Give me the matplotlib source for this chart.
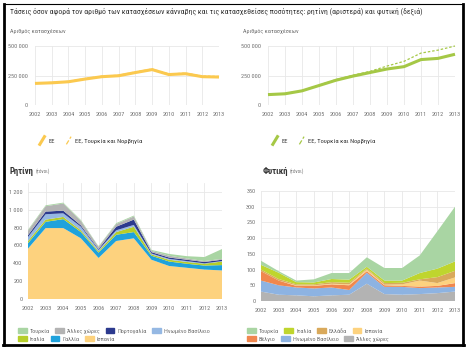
import matplotlib
matplotlib.use('Agg')
import matplotlib.pyplot as plt
import matplotlib.font_manager as fm
from matplotlib.lines import Line2D
from matplotlib.patches import Patch
from matplotlib.legend_handler import HandlerBase

# pick a narrow face if one exists, else Liberation Sans
FONT, STRETCH = 'Liberation Sans', 'normal'
for fam in ['Liberation Sans Narrow', 'Roboto Condensed', 'Open Sans Condensed', 'DejaVu Sans Condensed']:
    try:
        fm.findfont(fm.FontProperties(family=fam), fallback_to_default=False)
        FONT = fam
        break
    except Exception:
        pass
plt.rcParams['font.family'] = [FONT, 'DejaVu Sans']
plt.rcParams['font.stretch'] = STRETCH

# ---------------- data ----------------
years = list(range(2002, 2014))

resin_cases_eu = [183000, 188000, 197000, 220000, 240000, 248000, 275000, 300000, 258000, 265000, 240000, 237000]
resin_cases_eu_tr_no = [186000, 191000, 200000, 224000, 244000, 252000, 280000, 305000, 263000, 270000, 245000, 242000]

herbal_cases_eu = [88000, 95000, 120000, 165000, 210000, 245000, 275000, 305000, 325000, 385000, 395000, 430000]
herbal_cases_eu_tr_no = [90000, 97000, 122000, 168000, 215000, 252000, 285000, 330000, 370000, 440000, 465000, 500000]

# resin (tonnes), bottom to top
resin_labels = ['Ισπανία', 'Γαλλία', 'Ιταλία', 'Ηνωμένο Βασίλειο', 'Πορτογαλία', 'Άλλες χώρες', 'Τουρκία']
resin_spain    = [565, 795, 795, 680, 460, 650, 680, 440, 370, 350, 330, 320]
resin_france   = [60, 70, 100, 70, 60, 70, 70, 45, 50, 45, 45, 60]
resin_italy    = [25, 25, 25, 20, 15, 30, 60, 15, 20, 20, 20, 40]
resin_uk       = [45, 60, 40, 40, 15, 20, 20, 10, 10, 10, 5, 5]
resin_portugal = [20, 30, 30, 15, 10, 40, 60, 15, 15, 15, 15, 15]
resin_other    = [50, 60, 80, 50, 25, 30, 35, 15, 20, 15, 10, 10]
resin_turkey   = [10, 10, 10, 10, 5, 10, 10, 10, 20, 25, 45, 110]

# herbal (tonnes), bottom to top
herbal_labels = ['Άλλες χώρες', 'Ηνωμένο Βασίλειο', 'Βέλγιο', 'Ισπανία', 'Ελλάδα', 'Ιταλία', 'Τουρκία']
herbal_other   = [30, 20, 18, 15, 18, 20, 55, 22, 20, 22, 25, 30]
herbal_uk      = [35, 30, 25, 25, 25, 15, 35, 23, 25, 19, 18, 15]
herbal_belgium = [30, 15, 5, 8, 10, 15, 5, 5, 3, 5, 5, 12]
herbal_spain   = [0, 0, 2, 2, 2, 3, 5, 2, 5, 19, 9, 18]
herbal_greece  = [5, 5, 3, 3, 5, 5, 3, 5, 5, 4, 19, 21]
herbal_italy   = [15, 20, 7, 6, 10, 10, 6, 8, 7, 20, 27, 30]
herbal_turkey  = [13, 5, 5, 10, 19, 21, 30, 40, 40, 56, 119, 174]

resin_colors = ['#FDD27E', '#1FA2DC', '#B6CE2A', '#95B8E3', '#2C3A8E', '#B3B3B3', '#A9D5A3']
herbal_colors = ['#B3B3B3', '#8DB3E2', '#F0874E', '#FDD27E', '#D9A95B', '#BFD52E', '#A9D5A3']

TITLE = 'Τάσεις όσον αφορά τον αριθμό των κατασχέσεων κάνναβης και τις κατασχεθείσες ποσότητες: ρητίνη (αριστερά) και φυτική (δεξιά)'

RESIN_LINE = '#FBC94F'
HERBAL_LINE = '#A5C846'
GRID = '#E8E8E8'
TICK = '#707070'
TXT = '#333333'

W, H = 468, 352
fig = plt.figure(figsize=(W / 100, H / 100), dpi=100)
fig.patch.set_facecolor('white')
renderer = fig.canvas.get_renderer()

# scale all text so that the title spans the same width as in the reference
probe = fig.text(0, 0, TITLE, fontsize=6)
pw = probe.get_window_extent(renderer).width
probe.remove()
TS = 6 * 413 / pw           # title size
TICKS = TS * 0.80
LEG = TS * 0.84
LEG2 = TS * 0.80
SMALL = TS * 0.80
PANEL = TS * 1.12
UNIT = TS * 0.66


def ax_px(l, t, r, b):
    return fig.add_axes([l / W, 1 - b / H, (r - l) / W, (b - t) / H])


def style(ax):
    for s in ax.spines.values():
        s.set_visible(False)
    ax.tick_params(length=0, labelsize=TICKS, colors=TICK)
    ax.set_xticks(years)
    ax.set_xlim(2002, 2013)
    ax.grid(True, color=GRID, lw=0.6)
    ax.set_axisbelow(True)


class DiagHandler(HandlerBase):
    def create_artists(self, legend, orig_handle, xdescent, ydescent, width, height, fontsize, trans):
        l = Line2D([-xdescent + 0.2 * width, -xdescent + 0.8 * width],
                   [-ydescent - 0.35 * height, -ydescent + 1.35 * height],
                   color=orig_handle.get_color(), lw=orig_handle.get_linewidth(),
                   linestyle=orig_handle.get_linestyle(), transform=trans)
        return [l]


def fmt_k(v):
    return '0' if v == 0 else f'{v // 1000} 000'


def panel_title(x, y, bold, unit):
    t = fig.text(x / W, 1 - y / H, bold, fontsize=PANEL, color=TXT, fontweight='bold', va='center')
    w = t.get_window_extent(renderer).width
    fig.text((x + w + 1.5) / W, 1 - y / H, unit, fontsize=UNIT, color=TICK, va='center')


# ---------------- title ----------------
fig.text(10 / W, 1 - 11 / H, TITLE, fontsize=TS, color=TXT, va='center', ha='left')

# ---------------- top charts ----------------
for (l, r, eu, eutn, col, labx) in [
        (35, 219, resin_cases_eu, resin_cases_eu_tr_no, RESIN_LINE, 10),
        (268, 455, herbal_cases_eu, herbal_cases_eu_tr_no, HERBAL_LINE, 243)]:
    ax = ax_px(l, 46, r, 105)
    style(ax)
    ax.set_ylim(0, 500000)
    ax.set_yticks([0, 250000, 500000])
    ax.set_yticklabels([fmt_k(v) for v in [0, 250000, 500000]])
    ax.tick_params(axis='y', pad=5)
    ax.tick_params(axis='x', pad=5)
    h2, = ax.plot(years, eutn, color=col, lw=0.9, ls=(0, (2, 1.5)), clip_on=False)
    h1, = ax.plot(years, eu, color=col, lw=2.2, clip_on=False, solid_capstyle='butt')
    fig.text(labx / W, 1 - 31 / H, 'Αριθμός κατασχέσεων', fontsize=SMALL, color=TICK, va='center')
    fig.legend([h1, h2], ['ΕΕ', 'ΕΕ, Τουρκία και Νορβηγία'],
               handler_map={Line2D: DiagHandler()},
               loc='center left', bbox_to_anchor=((labx + 25) / W, 1 - 141 / H),
               ncol=2, frameon=False, fontsize=LEG, handlelength=1.2, handletextpad=0.4,
               columnspacing=1.5, borderpad=0, labelcolor=TXT)

# ---------------- bottom-left: resin ----------------
ax = ax_px(28, 183, 222, 299)
style(ax)
ax.set_ylim(0, 1300)
ax.set_yticks(range(0, 1201, 200))
ax.set_yticklabels(['0', '200', '400', '600', '800', '1 000', '1 200'])
ax.tick_params(axis='y', pad=4)
ax.tick_params(axis='x', pad=5)
ax.stackplot(years, resin_spain, resin_france, resin_italy, resin_uk, resin_portugal,
             resin_other, resin_turkey, colors=resin_colors, lw=0)
panel_title(10, 171, 'Ρητίνη', '(τόνοι)')

rc = dict(zip(resin_labels, resin_colors))
row1 = ['Τουρκία', 'Άλλες χώρες', 'Πορτογαλία', 'Ηνωμένο Βασίλειο']
row2 = ['Ιταλία', 'Γαλλία', 'Ισπανία']
for row, y in [(row1, 331), (row2, 339)]:
    fig.legend([Patch(color=rc[k]) for k in row], row, loc='center left',
               bbox_to_anchor=(15 / W, 1 - y / H), ncol=len(row), frameon=False,
               fontsize=LEG2, handlelength=1.4, handleheight=0.9, handletextpad=0.5,
               columnspacing=0.9, borderpad=0, labelcolor=TICK)

# ---------------- bottom-right: herbal ----------------
ax = ax_px(261, 191, 455, 301)
style(ax)
ax.set_ylim(0, 350)
ax.set_yticks(range(0, 351, 50))
ax.tick_params(axis='y', pad=4)
ax.tick_params(axis='x', pad=5)
ax.stackplot(years, herbal_other, herbal_uk, herbal_belgium, herbal_spain, herbal_greece,
             herbal_italy, herbal_turkey, colors=herbal_colors, lw=0)
panel_title(263, 171, 'Φυτική', '(τόνοι)')

hc = dict(zip(herbal_labels, herbal_colors))
row1 = ['Τουρκία', 'Ιταλία', 'Ελλάδα', 'Ισπανία']
row2 = ['Βέλγιο', 'Ηνωμένο Βασίλειο', 'Άλλες χώρες']
for row, y in [(row1, 331), (row2, 339)]:
    fig.legend([Patch(color=hc[k]) for k in row], row, loc='center left',
               bbox_to_anchor=(244 / W, 1 - y / H), ncol=len(row), frameon=False,
               fontsize=LEG2, handlelength=1.4, handleheight=0.9, handletextpad=0.5,
               columnspacing=0.9, borderpad=0, labelcolor=TICK)

# ---------------- frame ----------------
fig.add_artist(Line2D([3.5 / W, 463 / W], [1 - 4 / H, 1 - 4 / H], color='black', lw=0.8))
fig.add_artist(Line2D([4 / W, 4 / W], [1 - 4 / H, 1 - 345 / H], color='black', lw=2.0))
fig.add_artist(Line2D([463 / W, 463 / W], [1 - 4 / H, 1 - 345 / H], color='black', lw=2.0))
fig.add_artist(Line2D([3 / W, 464 / W], [1 - 345 / H, 1 - 345 / H], color='black', lw=2.0))

fig.savefig('out.png', dpi=100, facecolor='white')
